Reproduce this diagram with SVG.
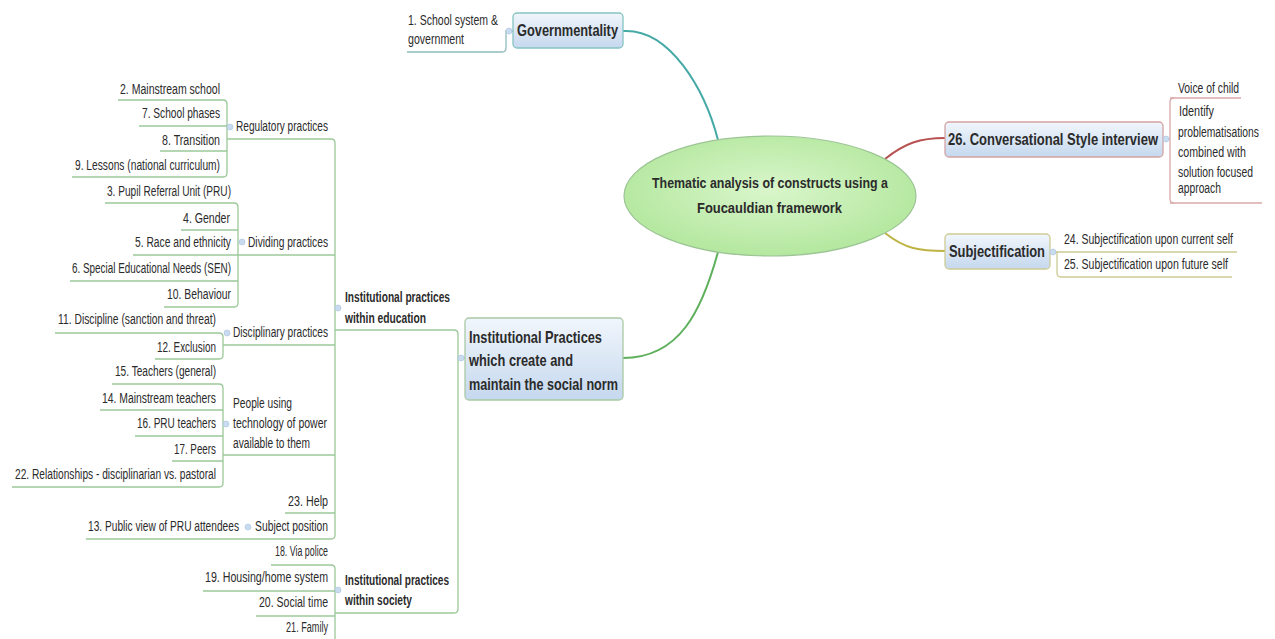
<svg xmlns="http://www.w3.org/2000/svg" width="1275" height="639" viewBox="0 0 1275 639">
<defs>
<style>
.t{font-family:"Liberation Sans",Arial,sans-serif;font-size:14px;fill:#2b2b2b}
.b{font-weight:bold}
.big{font-size:17px}
.g{fill:none;stroke:#9bc898;stroke-width:1.3}
.r{fill:none;stroke:#d9a9a9;stroke-width:1.3}
.y{fill:none;stroke:#cccb92;stroke-width:1.3}
.tl{fill:none;stroke:#8fbcbc;stroke-width:1.3}
.dot{fill:#c9dbef;stroke:#a9c3e0;stroke-width:0.6}
</style>
<linearGradient id="box" x1="0" y1="0" x2="0" y2="1">
<stop offset="0" stop-color="#f1f6fc"/>
<stop offset="1" stop-color="#c5d8ee"/>
</linearGradient>
<radialGradient id="ell" cx="0.5" cy="0.45" r="0.6">
<stop offset="0" stop-color="#d9f6cb"/>
<stop offset="1" stop-color="#b0e69a"/>
</radialGradient>
</defs>
<rect width="1275" height="639" fill="#ffffff"/>

<g id="connectors">
<path d="M623,31 C670,28 705,90 718,140" fill="none" stroke="#45a9a6" stroke-width="2"/>
<path d="M718,252 C702,310 680,358 623,358" fill="none" stroke="#5fb05c" stroke-width="2"/>
<path d="M885,159 C905,143 920,138 945,138" fill="none" stroke="#b85252" stroke-width="2"/>
<path d="M885,233 C905,249 920,251 945,251" fill="none" stroke="#bdb443" stroke-width="2"/>
<path class="tl" d="M407,52 H502 Q506,52 506,48 V31 H513"/>
<path class="g" d="M223,100 Q227,100 227,104 V173 Q227,177 223,177"/>
<path class="g" d="M234,203 Q238,203 238,207 V303 Q238,307 234,307"/>
<path class="g" d="M219,333 Q223,333 223,337 V355 Q223,359 219,359"/>
<path class="g" d="M219,384 Q223,384 223,388 V483 Q223,487 219,487"/>
<path class="g" d="M331,139 Q335,139 335,143 V535 Q335,539 331,539"/>
<path class="g" d="M454,330 Q458,330 458,334 V609 Q458,613 454,613"/>
<path class="g" d="M458,358 H465"/>
<path class="g" d="M331,565 Q335,565 335,569 V639"/>
<path class="r" d="M1163,139 H1170"/>
<path class="r" d="M1174,98 Q1170,98 1170,102 V199 Q1170,203 1174,203"/>
<path class="y" d="M1050,252 H1057 V273 Q1057,277 1061,277"/>
</g>

<g id="central">
<ellipse cx="770" cy="196" rx="146" ry="60" fill="url(#ell)" stroke="#9cc495" stroke-width="1.2"/>
<text class="t b" x="652" y="188" font-size="15" textLength="236" lengthAdjust="spacingAndGlyphs" fill="#333">Thematic analysis of constructs using a</text>
<text class="t b" x="697" y="213" font-size="15" textLength="145" lengthAdjust="spacingAndGlyphs" fill="#333">Foucauldian framework</text>
</g>

<g id="governmentality">
<rect x="513" y="13" width="110" height="35" rx="4" fill="url(#box)" stroke="#86c4c2" stroke-width="1.3"/>
<text class="t b big" x="517" y="36" textLength="101" lengthAdjust="spacingAndGlyphs">Governmentality</text>
<circle class="dot" cx="509" cy="31" r="3"/>
</g>
<g id="n1">
<text class="t" x="408" y="25" textLength="90" lengthAdjust="spacingAndGlyphs">1.  School system &amp;</text>
<text class="t" x="408" y="44" textLength="56" lengthAdjust="spacingAndGlyphs">government</text>
</g>

<g id="conversational">
<rect x="945" y="122" width="218" height="35" rx="4" fill="url(#box)" stroke="#d3a2a2" stroke-width="1.3"/>
<text class="t b big" x="948" y="145" textLength="210" lengthAdjust="spacingAndGlyphs">26.  Conversational Style interview</text>
<circle class="dot" cx="1166" cy="139" r="3"/>
</g>
<g id="voice">
<text class="t" x="1178" y="93" textLength="61" lengthAdjust="spacingAndGlyphs">Voice of child</text>
<path class="r" d="M1170,98 H1241"/>
</g>
<g id="identify">
<text class="t" x="1179" y="116" textLength="35" lengthAdjust="spacingAndGlyphs">Identify</text>
<text class="t" x="1178" y="137" textLength="81" lengthAdjust="spacingAndGlyphs">problematisations</text>
<text class="t" x="1178" y="157" textLength="68" lengthAdjust="spacingAndGlyphs">combined with</text>
<text class="t" x="1178" y="177" textLength="75" lengthAdjust="spacingAndGlyphs">solution focused</text>
<text class="t" x="1178" y="193" textLength="43" lengthAdjust="spacingAndGlyphs">approach</text>
<path class="r" d="M1170,203 H1262"/>
</g>

<g id="subjectification">
<rect x="945" y="234" width="105" height="35" rx="4" fill="url(#box)" stroke="#cfcc95" stroke-width="1.3"/>
<text class="t b big" x="949" y="257" textLength="96" lengthAdjust="spacingAndGlyphs">Subjectification</text>
<circle class="dot" cx="1053" cy="252" r="3"/>
</g>
<g id="n24">
<text class="t" x="1064" y="244" textLength="169" lengthAdjust="spacingAndGlyphs">24.  Subjectification upon current self</text>
<path class="y" d="M1057,252 H1237"/>
</g>
<g id="n25">
<text class="t" x="1064" y="269" textLength="164" lengthAdjust="spacingAndGlyphs">25.  Subjectification upon future self</text>
<path class="y" d="M1061,277 H1232"/>
</g>

<g id="institutional">
<rect x="465" y="318" width="158" height="82" rx="4" fill="url(#box)" stroke="#a9c9a4" stroke-width="1.3"/>
<text class="t b big" x="469" y="343" textLength="133" lengthAdjust="spacingAndGlyphs">Institutional Practices</text>
<text class="t b big" x="469" y="366" textLength="104" lengthAdjust="spacingAndGlyphs">which create and</text>
<text class="t b big" x="469" y="390" textLength="149" lengthAdjust="spacingAndGlyphs">maintain the social norm</text>
<circle class="dot" cx="461" cy="358" r="3"/>
</g>

<g id="ipe">
<text class="t b" x="345" y="302" textLength="105" lengthAdjust="spacingAndGlyphs">Institutional practices</text>
<text class="t b" x="345" y="323" textLength="81" lengthAdjust="spacingAndGlyphs">within education</text>
<path class="g" d="M335,330 H454"/>
<circle class="dot" cx="338" cy="308" r="3"/>
</g>

<g id="ips">
<text class="t b" x="345" y="585" textLength="104" lengthAdjust="spacingAndGlyphs">Institutional practices</text>
<text class="t b" x="345" y="605" textLength="67" lengthAdjust="spacingAndGlyphs">within society</text>
<path class="g" d="M335,613 H454"/>
<circle class="dot" cx="338" cy="590" r="3"/>
</g>

<g id="regulatory">
<text class="t" x="236" y="131" textLength="92" lengthAdjust="spacingAndGlyphs">Regulatory practices</text>
<path class="g" d="M227,139 H331"/>
<circle class="dot" cx="230" cy="127" r="3"/>
</g>
<g id="n2"><text class="t" x="120" y="94" textLength="100" lengthAdjust="spacingAndGlyphs">2.  Mainstream school</text><path class="g" d="M118,100 H223"/></g>
<g id="n7"><text class="t" x="142" y="118" textLength="78" lengthAdjust="spacingAndGlyphs">7.  School phases</text><path class="g" d="M139,126 H227"/></g>
<g id="n8"><text class="t" x="162" y="145" textLength="58" lengthAdjust="spacingAndGlyphs">8.  Transition</text><path class="g" d="M160,151 H227"/></g>
<g id="n9"><text class="t" x="75" y="170" textLength="145" lengthAdjust="spacingAndGlyphs">9.  Lessons (national curriculum)</text><path class="g" d="M72,177 H223"/></g>

<g id="dividing">
<text class="t" x="248" y="247" textLength="80" lengthAdjust="spacingAndGlyphs">Dividing practices</text>
<path class="g" d="M238,255 H335"/>
<circle class="dot" cx="242" cy="242" r="3"/>
</g>
<g id="n3"><text class="t" x="107" y="196" textLength="124" lengthAdjust="spacingAndGlyphs">3.  Pupil Referral Unit (PRU)</text><path class="g" d="M105,203 H234"/></g>
<g id="n4"><text class="t" x="183" y="223" textLength="47" lengthAdjust="spacingAndGlyphs">4.  Gender</text><path class="g" d="M181,230 H238"/></g>
<g id="n5"><text class="t" x="135" y="247" textLength="96" lengthAdjust="spacingAndGlyphs">5.  Race and ethnicity</text><path class="g" d="M133,255 H238"/></g>
<g id="n6"><text class="t" x="72" y="273" textLength="159" lengthAdjust="spacingAndGlyphs">6.  Special Educational Needs (SEN)</text><path class="g" d="M70,281 H238"/></g>
<g id="n10"><text class="t" x="167" y="299" textLength="64" lengthAdjust="spacingAndGlyphs">10.  Behaviour</text><path class="g" d="M164,307 H234"/></g>

<g id="disciplinary">
<text class="t" x="233" y="337" textLength="95" lengthAdjust="spacingAndGlyphs">Disciplinary practices</text>
<path class="g" d="M223,345 H335"/>
<circle class="dot" cx="227" cy="333" r="3"/>
</g>
<g id="n11"><text class="t" x="58" y="324" textLength="158" lengthAdjust="spacingAndGlyphs">11.  Discipline (sanction and threat)</text><path class="g" d="M55,333 H219"/></g>
<g id="n12"><text class="t" x="157" y="352" textLength="59" lengthAdjust="spacingAndGlyphs">12.  Exclusion</text><path class="g" d="M155,359 H219"/></g>

<g id="people">
<text class="t" x="233" y="408" textLength="59" lengthAdjust="spacingAndGlyphs">People using</text>
<text class="t" x="233" y="428" textLength="94" lengthAdjust="spacingAndGlyphs">technology of power</text>
<text class="t" x="233" y="448" textLength="77" lengthAdjust="spacingAndGlyphs">available to them</text>
<path class="g" d="M223,455 H335"/>
<circle class="dot" cx="226" cy="424" r="3"/>
</g>
<g id="n15"><text class="t" x="115" y="376" textLength="101" lengthAdjust="spacingAndGlyphs">15.  Teachers (general)</text><path class="g" d="M112,384 H219"/></g>
<g id="n14"><text class="t" x="102" y="403" textLength="114" lengthAdjust="spacingAndGlyphs">14.  Mainstream teachers</text><path class="g" d="M100,410 H223"/></g>
<g id="n16"><text class="t" x="137" y="428" textLength="79" lengthAdjust="spacingAndGlyphs">16.  PRU teachers</text><path class="g" d="M135,436 H223"/></g>
<g id="n17"><text class="t" x="174" y="454" textLength="42" lengthAdjust="spacingAndGlyphs">17.  Peers</text><path class="g" d="M172,461 H223"/></g>
<g id="n22"><text class="t" x="15" y="479" textLength="201" lengthAdjust="spacingAndGlyphs">22.  Relationships - disciplinarian vs. pastoral</text><path class="g" d="M12,487 H219"/></g>

<g id="n23"><text class="t" x="288" y="506" textLength="40" lengthAdjust="spacingAndGlyphs">23.  Help</text><path class="g" d="M285,513 H335"/></g>
<g id="subjectposition">
<text class="t" x="255" y="531" textLength="73" lengthAdjust="spacingAndGlyphs">Subject position</text>
<path class="g" d="M248,539 H331"/>
<circle class="dot" cx="248" cy="527" r="3"/>
</g>
<g id="n13"><text class="t" x="88" y="531" textLength="151" lengthAdjust="spacingAndGlyphs">13.  Public view of PRU attendees</text><path class="g" d="M86,539 H248"/></g>

<g id="n18"><text class="t" x="275" y="556" textLength="53" lengthAdjust="spacingAndGlyphs">18.  Via police</text><path class="g" d="M271,565 H331"/></g>
<g id="n19"><text class="t" x="205" y="582" textLength="123" lengthAdjust="spacingAndGlyphs">19.  Housing/home system</text><path class="g" d="M203,591 H335"/></g>
<g id="n20"><text class="t" x="259" y="607" textLength="69" lengthAdjust="spacingAndGlyphs">20.  Social time</text><path class="g" d="M256,616 H335"/></g>
<g id="n21"><text class="t" x="286" y="632" textLength="42" lengthAdjust="spacingAndGlyphs">21.  Family</text><path class="g" d="M283,641 H335"/></g>
</svg>
